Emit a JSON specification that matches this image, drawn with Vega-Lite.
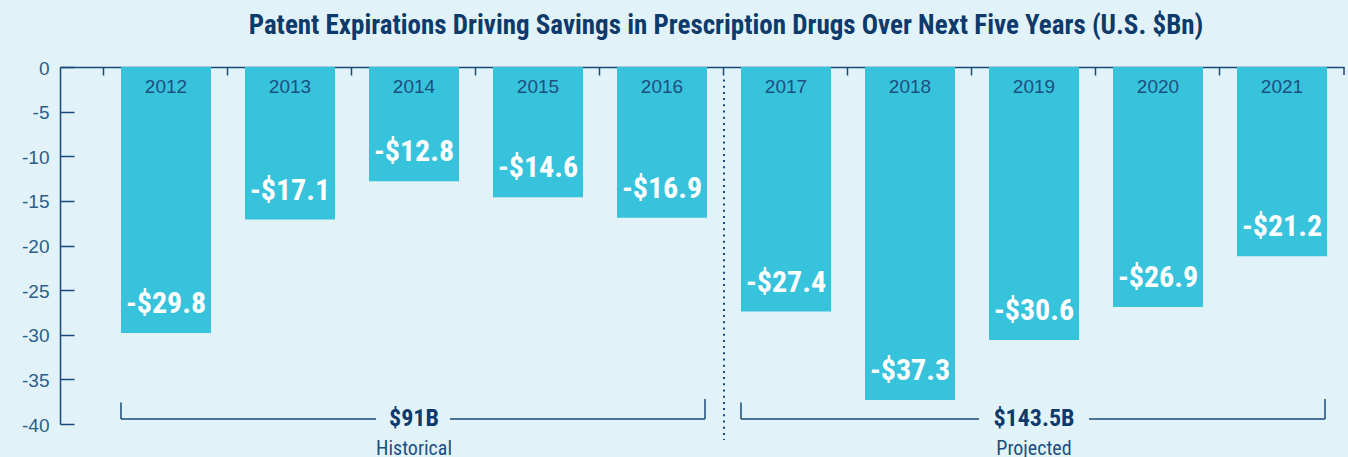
{
  "$schema": "https://vega.github.io/schema/vega-lite/v6.json",
  "autosize": {"type": "none"},
  "width": 1284,
  "height": 357,
  "padding": {"left": 60, "top": 67, "right": 4, "bottom": 33},
  "background": "#e1f3f8",
  "config": {
    "view": {"stroke": null},
    "font": "Roboto Condensed, DejaVu Sans Condensed, Liberation Sans"
  },
  "title": {
    "text": "Patent Expirations Driving Savings in Prescription Drugs Over Next Five Years (U.S. $Bn)",
    "font": "Roboto Condensed, DejaVu Sans Condensed, Liberation Sans",
    "fontSize": 27,
    "fontWeight": "bold",
    "color": "#0d3a6b",
    "anchor": "middle",
    "dx": 24,
    "offset": 19
  },
  "data": {
    "values": [
      {"kind": "bar", "year": "2012", "value": -29.8, "label": "-$29.8"},
      {"kind": "bar", "year": "2013", "value": -17.1, "label": "-$17.1"},
      {"kind": "bar", "year": "2014", "value": -12.8, "label": "-$12.8"},
      {"kind": "bar", "year": "2015", "value": -14.6, "label": "-$14.6"},
      {"kind": "bar", "year": "2016", "value": -16.9, "label": "-$16.9"},
      {"kind": "bar", "year": "2017", "value": -27.4, "label": "-$27.4"},
      {"kind": "bar", "year": "2018", "value": -37.3, "label": "-$37.3"},
      {"kind": "bar", "year": "2019", "value": -30.6, "label": "-$30.6"},
      {"kind": "bar", "year": "2020", "value": -26.9, "label": "-$26.9"},
      {"kind": "bar", "year": "2021", "value": -21.2, "label": "-$21.2"},
      {"kind": "group", "year": "2014", "from": "2012", "to": "2016", "total": "$91B", "period": "Historical"},
      {"kind": "group", "year": "2019", "from": "2017", "to": "2021", "total": "$143.5B", "period": "Projected"},
      {"kind": "separator", "year": "2017"},
      {"kind": "endtick", "year": "2021"}
    ]
  },
  "encoding": {
    "x": {
      "field": "year",
      "type": "nominal",
      "sort": null,
      "scale": {"paddingInner": 0, "paddingOuter": 0.1774, "align": 1},
      "axis": {
        "orient": "top",
        "title": null,
        "labels": false,
        "bandPosition": 0,
        "tickSize": -8,
        "tickColor": "#1a4a7a",
        "tickWidth": 1.5,
        "domainColor": "#1a4a7a",
        "domainWidth": 1.5
      }
    }
  },
  "layer": [
    {
      "transform": [{"filter": "datum.kind === 'bar'"}],
      "layer": [
        {
          "mark": {"type": "bar", "color": "#38c3dc", "width": {"band": 0.726}},
          "encoding": {
            "y": {
              "field": "value",
              "type": "quantitative",
              "scale": {"domain": [-40, 0], "nice": false},
              "axis": {
                "title": null,
                "values": [0, -5, -10, -15, -20, -25, -30, -35, -40],
                "labelExpr": "'' + datum.value",
                "grid": false,
                "tickSize": -14,
                "tickColor": "#1a4a7a",
                "tickWidth": 1.5,
                "domainColor": "#1a4a7a",
                "domainWidth": 1.5,
                "labelFont": "Liberation Sans",
                "labelFontSize": 19,
                "labelColor": "#2b5d8d",
                "labelPadding": 25,
                "labelOffset": 1
              }
            }
          }
        },
        {
          "mark": {"type": "text", "font": "Liberation Sans", "fontSize": 19, "color": "#1d4f7f", "baseline": "middle", "dy": 20},
          "encoding": {"y": {"datum": 0}, "text": {"field": "year"}}
        },
        {
          "mark": {"type": "text", "fontSize": 30, "fontWeight": "bold", "color": "#ffffff", "baseline": "middle", "dy": -29},
          "encoding": {"y": {"field": "value", "type": "quantitative"}, "text": {"field": "label"}}
        }
      ]
    },
    {
      "transform": [{"filter": "datum.kind === 'separator'"}],
      "mark": {"type": "rule", "color": "#1a4a7a", "strokeWidth": 2, "strokeDash": [2, 4.2]},
      "encoding": {
        "x": {"field": "year", "type": "nominal", "bandPosition": 0},
        "y": {"datum": -1.4},
        "y2": {"datum": -41.8}
      }
    },
    {
      "transform": [{"filter": "datum.kind === 'endtick'"}],
      "mark": {"type": "rule", "color": "#1a4a7a", "strokeWidth": 1.5},
      "encoding": {
        "x": {"field": "year", "type": "nominal", "bandPosition": 1},
        "y": {"datum": 0},
        "y2": {"datum": -0.9}
      }
    },
    {
      "transform": [{"filter": "datum.kind === 'group'"}],
      "layer": [
        {
          "mark": {"type": "rule", "color": "#1a4a7a", "strokeWidth": 1.5},
          "encoding": {
            "x": {"field": "from", "type": "nominal", "bandPosition": 0.137},
            "y": {"datum": -37.6},
            "y2": {"datum": -39.44}
          }
        },
        {
          "mark": {"type": "rule", "color": "#1a4a7a", "strokeWidth": 1.5},
          "encoding": {
            "x": {"field": "to", "type": "nominal", "bandPosition": 0.847},
            "y": {"datum": -37.2},
            "y2": {"datum": -39.44}
          }
        },
        {
          "transform": [{"filter": "datum.year === '2014'"}],
          "layer": [
            {
              "mark": {"type": "rule", "color": "#1a4a7a", "strokeWidth": 1.5},
              "encoding": {
                "x": {"field": "from", "type": "nominal", "bandPosition": 0.137},
                "x2": {"field": "year", "bandPosition": 0.194},
                "y": {"datum": -39.44}
              }
            },
            {
              "mark": {"type": "rule", "color": "#1a4a7a", "strokeWidth": 1.5},
              "encoding": {
                "x": {"field": "year", "type": "nominal", "bandPosition": 0.79},
                "x2": {"field": "to", "bandPosition": 0.847},
                "y": {"datum": -39.44}
              }
            }
          ]
        },
        {
          "transform": [{"filter": "datum.year === '2019'"}],
          "layer": [
            {
              "mark": {"type": "rule", "color": "#1a4a7a", "strokeWidth": 1.5},
              "encoding": {
                "x": {"field": "from", "type": "nominal", "bandPosition": 0.137},
                "x2": {"field": "year", "bandPosition": 0.056},
                "y": {"datum": -39.44}
              }
            },
            {
              "mark": {"type": "rule", "color": "#1a4a7a", "strokeWidth": 1.5},
              "encoding": {
                "x": {"field": "year", "type": "nominal", "bandPosition": 0.944},
                "x2": {"field": "to", "bandPosition": 0.847},
                "y": {"datum": -39.44}
              }
            }
          ]
        },
        {
          "mark": {"type": "text", "fontSize": 24, "fontWeight": "bold", "color": "#0d3a6b", "baseline": "middle", "dy": 0},
          "encoding": {
            "y": {"datum": -39.44},
            "text": {"field": "total"}
          }
        },
        {
          "mark": {"type": "text", "fontSize": 20, "color": "#1d4f7f", "baseline": "middle", "dy": 30},
          "encoding": {
            "y": {"datum": -39.44},
            "text": {"field": "period"}
          }
        }
      ]
    }
  ]
}
